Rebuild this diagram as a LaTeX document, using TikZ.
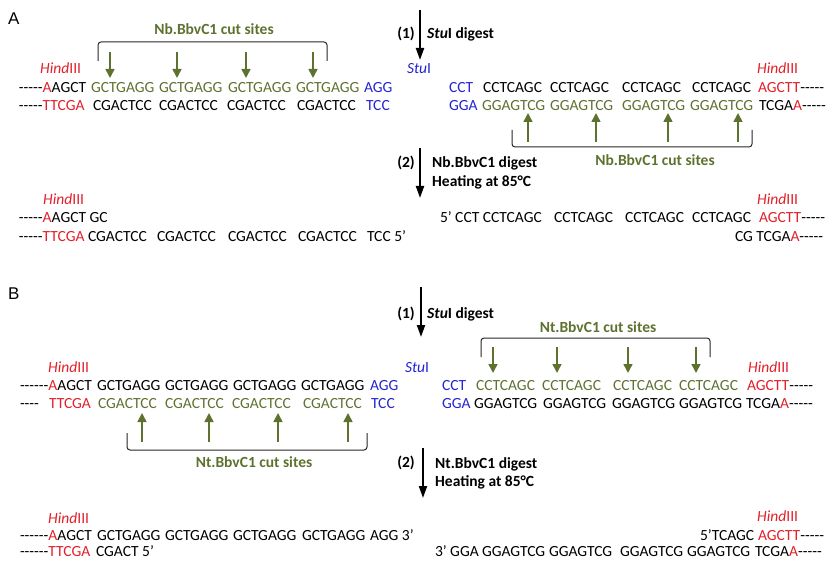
\documentclass[tikz,border=0pt]{standalone}
\usepackage{fontspec}
\setmainfont{Carlito}[Ligatures=TeXOff]
\newfontfamily\panelfont{Liberation Sans}
\usetikzlibrary{arrows.meta}
\definecolor{dnagreen}{RGB}{94,114,48}
\definecolor{dnared}{RGB}{226,32,42}
\definecolor{dnablue}{RGB}{36,36,210}
\newcommand{\seqsize}{\fontsize{15.5}{18}\selectfont}
\tikzset{
  sq/.style={anchor=base west, inner sep=0pt, outer sep=0pt},
  gn/.style={text=dnagreen},
  bl/.style={text=dnablue},
  rd/.style={text=dnared},
  enzlbl/.style={anchor=base west, inner sep=0pt, text=dnared},
  sitelbl/.style={anchor=base, inner sep=0pt, font=\seqsize\bfseries, text=dnagreen},
  stepnum/.style={anchor=base east, inner sep=0pt, font=\seqsize\bfseries},
  steptext/.style={anchor=base west, inner sep=0pt, font=\seqsize\bfseries},
  panel/.style={anchor=base west, inner sep=0pt, font=\panelfont\fontsize{17}{20}\selectfont},
  cutarrow/.style={draw=dnagreen, line width=1.6pt, -{Triangle[width=9pt,length=9pt]}},
  bigarrow/.style={draw=black, line width=2pt, -{Triangle[width=8pt,length=12pt]}},
  bracketline/.style={draw=black!85, line width=1pt, rounded corners=3pt},
}
\newcommand{\hindlbl}{\textit{Hind}III}
\newcommand{\stulbl}{\textit{Stu}I}
\begin{document}
\begin{tikzpicture}[x=1pt, y=-1pt, font=\seqsize]
\useasboundingbox (0,0) rectangle (827,561);

% ---------------- Panel A ----------------
\node[panel] (pA) at (8,25) {A};

% step (1)
\draw[bigarrow] (420,10) -- (420,60);
\node[stepnum] (a1n) at (415,39) {(1)};
\node[steptext] (a1t) at (427,39) {\textit{Stu}I digest};

% top-left site bracket and label
\node[sitelbl] (aSiteL) at (214,35) {Nb.BbvC1 cut sites};
\draw[bracketline] (98,61) -- (98,42) -- (327,42) -- (327,61);
\foreach \x in {110,177,246,313} \draw[cutarrow] (\x,52) -- (\x,78);

% left fragment
\node[enzlbl] (aHL) at (40,74) {\hindlbl};
\node[sq] (aL1a) at (19,93) {-----{\color{dnared}A}AGCT};
\node[sq,gn] (aL1b) at (91,93) {GCTGAGG};
\node[sq,gn] (aL1c) at (159,93) {GCTGAGG};
\node[sq,gn] (aL1d) at (228,93) {GCTGAGG};
\node[sq,gn] (aL1e) at (296,93) {GCTGAGG};
\node[sq,bl] (aL1f) at (364,93) {AGG};
\node[sq] (aL2a) at (19,111) {-----{\color{dnared}TTCGA}};
\node[sq] (aL2b) at (93,111) {CGACTCC};
\node[sq] (aL2c) at (159,111) {CGACTCC};
\node[sq] (aL2d) at (227,111) {CGACTCC};
\node[sq] (aL2e) at (297,111) {CGACTCC};
\node[sq,bl] (aL2f) at (366,111) {TCC};

% right fragment
\node[sq,bl] (aStu) at (407,74) {\stulbl};
\node[enzlbl] (aHR) at (757,74) {\hindlbl};
\node[sq,bl] (aR1a) at (449,93) {CCT};
\node[sq] (aR1b) at (483,93) {CCTCAGC};
\node[sq] (aR1c) at (550,93) {CCTCAGC};
\node[sq] (aR1d) at (622,93) {CCTCAGC};
\node[sq] (aR1e) at (692,93) {CCTCAGC};
\node[sq] (aR1f) at (758,93) {{\color{dnared}AGCTT}-----};
\node[sq,bl] (aR2a) at (449,111) {GGA};
\node[sq,gn] (aR2b) at (482,111) {GGAGTCG};
\node[sq,gn] (aR2c) at (550,111) {GGAGTCG};
\node[sq,gn] (aR2d) at (622,111) {GGAGTCG};
\node[sq,gn] (aR2e) at (690,111) {GGAGTCG};
\node[sq] (aR2f) at (759,111) {TCGA{\color{dnared}A}-----};

% bottom-right site bracket and label
\foreach \x in {528,596,668,738} \draw[cutarrow] (\x,142) -- (\x,113);
\draw[bracketline] (512,130) -- (512,147) -- (752,147) -- (752,130);
\node[sitelbl] (aSiteR) at (655,166) {Nb.BbvC1 cut sites};

% step (2)
\draw[bigarrow] (420,148) -- (420,198);
\node[stepnum] (a2n) at (415,168) {(2)};
\node[steptext] (a2t) at (432,168) {Nb.BbvC1 digest};
\node[steptext] (a2h) at (432,187) {Heating at 85°C};

% products, left
\node[enzlbl] (aPHL) at (43,205) {\hindlbl};
\node[sq] (aP1a) at (19,223) {-----{\color{dnared}A}AGCT GC};
\node[sq] (aP2a) at (19,242) {-----{\color{dnared}TTCGA}};
\node[sq] (aP2b) at (88,242) {CGACTCC};
\node[sq] (aP2c) at (157,242) {CGACTCC};
\node[sq] (aP2d) at (228,242) {CGACTCC};
\node[sq] (aP2e) at (298,242) {CGACTCC};
\node[sq] (aP2f) at (367,242) {TCC 5’};

% products, right
\node[enzlbl] (aPHR) at (757,205) {\hindlbl};
\node[sq] (aQ1a) at (440,223) {5’ CCT CCTCAGC};
\node[sq] (aQ1b) at (554,223) {CCTCAGC};
\node[sq] (aQ1c) at (625,223) {CCTCAGC};
\node[sq] (aQ1d) at (692,223) {CCTCAGC};
\node[sq] (aQ1e) at (759,223) {{\color{dnared}AGCTT}-----};
\node[sq] (aQ2a) at (735,242) {CG TCGA{\color{dnared}A}-----};

% ---------------- Panel B ----------------
\node[panel] (pB) at (8,299) {B};

% step (1)
\draw[bigarrow] (421,287) -- (421,337);
\node[stepnum] (b1n) at (415,318) {(1)};
\node[steptext] (b1t) at (427,318) {\textit{Stu}I digest};

% top-right site bracket and label
\node[sitelbl] (bSiteR) at (598,332) {Nt.BbvC1 cut sites};
\draw[bracketline] (481,357) -- (481,338) -- (710,338) -- (710,357);
\foreach \x in {493,557,628,696} \draw[cutarrow] (\x,347) -- (\x,373);

% left fragment
\node[enzlbl] (bHL) at (48,372) {\hindlbl};
\node[sq] (bL1a) at (20,390) {------{\color{dnared}A}AGCT};
\node[sq] (bL1b) at (97,390) {GCTGAGG};
\node[sq] (bL1c) at (165,390) {GCTGAGG};
\node[sq] (bL1d) at (233,390) {GCTGAGG};
\node[sq] (bL1e) at (301,390) {GCTGAGG};
\node[sq,bl] (bL1f) at (370,390) {AGG};
\node[sq] (bL2a) at (20,408) {----};
\node[sq,rd] (bL2b) at (49,408) {TTCGA};
\node[sq,gn] (bL2c) at (98,408) {CGACTCC};
\node[sq,gn] (bL2d) at (165,408) {CGACTCC};
\node[sq,gn] (bL2e) at (232,408) {CGACTCC};
\node[sq,gn] (bL2f) at (303,408) {CGACTCC};
\node[sq,bl] (bL2g) at (371,408) {TCC};

% right fragment
\node[sq,bl] (bStu) at (405,372) {\stulbl};
\node[enzlbl] (bHR) at (748,372) {\hindlbl};
\node[sq,bl] (bR1a) at (442,390) {CCT};
\node[sq,gn] (bR1b) at (476,390) {CCTCAGC};
\node[sq,gn] (bR1c) at (542,390) {CCTCAGC};
\node[sq,gn] (bR1d) at (613,390) {CCTCAGC};
\node[sq,gn] (bR1e) at (679,390) {CCTCAGC};
\node[sq] (bR1f) at (747,390) {{\color{dnared}AGCTT}-----};
\node[sq,bl] (bR2a) at (442,408) {GGA};
\node[sq] (bR2b) at (474,408) {GGAGTCG};
\node[sq] (bR2c) at (543,408) {GGAGTCG};
\node[sq] (bR2d) at (612,408) {GGAGTCG};
\node[sq] (bR2e) at (679,408) {GGAGTCG};
\node[sq] (bR2f) at (746,408) {TCGA{\color{dnared}A}-----};

% bottom-left site bracket and label
\foreach \x in {142,209,278,348} \draw[cutarrow] (\x,442) -- (\x,413);
\draw[bracketline] (127,433) -- (127,450) -- (367,450) -- (367,433);
\node[sitelbl] (bSiteL) at (254,467) {Nt.BbvC1 cut sites};

% step (2)
\draw[bigarrow] (423,448) -- (423,498);
\node[stepnum] (b2n) at (415,467) {(2)};
\node[steptext] (b2t) at (435,468) {Nt.BbvC1 digest};
\node[steptext] (b2h) at (435,486) {Heating at 85°C};

% products, left
\node[enzlbl] (bPHL) at (48,523) {\hindlbl};
\node[sq] (bP1a) at (20,540) {------{\color{dnared}A}AGCT};
\node[sq] (bP1b) at (97,540) {GCTGAGG};
\node[sq] (bP1c) at (165,540) {GCTGAGG};
\node[sq] (bP1d) at (233,540) {GCTGAGG};
\node[sq] (bP1e) at (302,540) {GCTGAGG};
\node[sq] (bP1f) at (370,540) {AGG 3’};
\node[sq] (bP2a) at (20,556) {------{\color{dnared}TTCGA}};
\node[sq] (bP2b) at (96,556) {CGACT 5’};

% products, right
\node[enzlbl] (bPHR) at (757,521) {\hindlbl};
\node[sq] (bQ1a) at (700,540) {5’TCAGC};
\node[sq] (bQ1b) at (758,540) {{\color{dnared}AGCTT}-----};
\node[sq] (bQ2a) at (435,556) {3’ GGA};
\node[sq] (bQ2b) at (482,556) {GGAGTCG};
\node[sq] (bQ2c) at (549,556) {GGAGTCG};
\node[sq] (bQ2d) at (620,556) {GGAGTCG};
\node[sq] (bQ2e) at (687,556) {GGAGTCG};
\node[sq] (bQ2f) at (755,556) {TCGA{\color{dnared}A}-----};
\end{tikzpicture}
\end{document}
